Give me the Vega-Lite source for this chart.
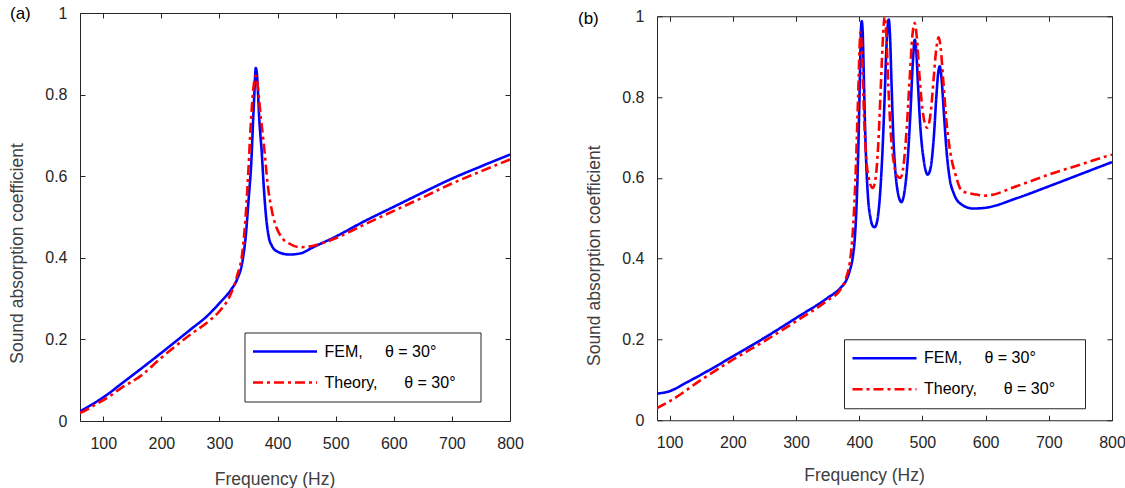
{
  "$schema": "https://vega.github.io/schema/vega-lite/v6.json",
  "background": "white",
  "padding": {"left": 8, "top": 4, "right": 0, "bottom": 0},
  "spacing": 53,
  "center": true,
  "config": {
    "view": {"stroke": "#262626", "strokeWidth": 1},
    "font": "Liberation Sans",
    "axis": {
      "grid": false,
      "domain": false,
      "tickColor": "#262626",
      "tickSize": -5,
      "labelFont": "Liberation Sans",
      "labelFontSize": 16,
      "labelColor": "#262626",
      "labelFlush": false,
      "labelOverlap": false,
      "titleFont": "Liberation Sans",
      "titleFontSize": 17.5,
      "titleFontWeight": "normal",
      "titleColor": "#404040"
    },
    "legend": {"title": null, "orient": "none", "strokeColor": "#262626", "fillColor": "white", "padding": 7, "symbolType": "stroke", "symbolSize": 4096, "symbolStrokeWidth": 2.6, "labelFont": "Liberation Sans", "labelFontSize": 16, "labelColor": "#000000", "labelOffset": 6, "labelLimit": 400, "clipHeight": 24, "rowPadding": 7},
    "title": {"font": "Liberation Sans", "fontSize": 17, "fontWeight": "normal", "color": "#000000"}
  },
  "datasets": {
    "a": [
      {"f": 60, "v": 0.024, "s": "FEM"}, {"f": 64, "v": 0.027, "s": "FEM"}, {"f": 80, "v": 0.040, "s": "FEM"}, {"f": 107, "v": 0.065, "s": "FEM"}, {"f": 130, "v": 0.090, "s": "FEM"}, {"f": 164, "v": 0.127, "s": "FEM"}, {"f": 200, "v": 0.167, "s": "FEM"}, {"f": 250, "v": 0.224, "s": "FEM"}, {"f": 280, "v": 0.259, "s": "FEM"}, {"f": 300, "v": 0.289, "s": "FEM"}, {"f": 320, "v": 0.322, "s": "FEM"}, {"f": 330, "v": 0.346, "s": "FEM"}, {"f": 340, "v": 0.395, "s": "FEM"}, {"f": 345, "v": 0.45, "s": "FEM"}, {"f": 350, "v": 0.54, "s": "FEM"}, {"f": 355, "v": 0.64, "s": "FEM"}, {"f": 358, "v": 0.74, "s": "FEM"}, {"f": 360, "v": 0.80, "s": "FEM"}, {"f": 362.5, "v": 0.865, "s": "FEM"}, {"f": 364.5, "v": 0.85, "s": "FEM"}, {"f": 366.5, "v": 0.80, "s": "FEM"}, {"f": 368.5, "v": 0.74, "s": "FEM"}, {"f": 370.5, "v": 0.70, "s": "FEM"}, {"f": 372.7, "v": 0.66, "s": "FEM"}, {"f": 376, "v": 0.58, "s": "FEM"}, {"f": 379.6, "v": 0.51, "s": "FEM"}, {"f": 385, "v": 0.45, "s": "FEM"}, {"f": 390, "v": 0.43, "s": "FEM"}, {"f": 400, "v": 0.415, "s": "FEM"}, {"f": 420, "v": 0.408, "s": "FEM"}, {"f": 440, "v": 0.411, "s": "FEM"}, {"f": 460, "v": 0.425, "s": "FEM"}, {"f": 500, "v": 0.452, "s": "FEM"}, {"f": 550, "v": 0.49, "s": "FEM"}, {"f": 600, "v": 0.525, "s": "FEM"}, {"f": 650, "v": 0.56, "s": "FEM"}, {"f": 700, "v": 0.594, "s": "FEM"}, {"f": 750, "v": 0.624, "s": "FEM"}, {"f": 800, "v": 0.653, "s": "FEM"},
      {"f": 60, "v": 0.020, "s": "Theory"}, {"f": 64, "v": 0.022, "s": "Theory"}, {"f": 80, "v": 0.035, "s": "Theory"}, {"f": 107, "v": 0.057, "s": "Theory"}, {"f": 130, "v": 0.080, "s": "Theory"}, {"f": 164, "v": 0.110, "s": "Theory"}, {"f": 200, "v": 0.155, "s": "Theory"}, {"f": 250, "v": 0.212, "s": "Theory"}, {"f": 280, "v": 0.243, "s": "Theory"}, {"f": 300, "v": 0.269, "s": "Theory"}, {"f": 320, "v": 0.313, "s": "Theory"}, {"f": 330, "v": 0.354, "s": "Theory"}, {"f": 340, "v": 0.42, "s": "Theory"}, {"f": 345, "v": 0.50, "s": "Theory"}, {"f": 350, "v": 0.62, "s": "Theory"}, {"f": 354, "v": 0.73, "s": "Theory"}, {"f": 358, "v": 0.81, "s": "Theory"}, {"f": 362.5, "v": 0.846, "s": "Theory"}, {"f": 366, "v": 0.82, "s": "Theory"}, {"f": 370, "v": 0.76, "s": "Theory"}, {"f": 376.7, "v": 0.673, "s": "Theory"}, {"f": 383, "v": 0.58, "s": "Theory"}, {"f": 391, "v": 0.51, "s": "Theory"}, {"f": 398, "v": 0.475, "s": "Theory"}, {"f": 405.5, "v": 0.453, "s": "Theory"}, {"f": 420, "v": 0.435, "s": "Theory"}, {"f": 440, "v": 0.426, "s": "Theory"}, {"f": 460, "v": 0.429, "s": "Theory"}, {"f": 500, "v": 0.448, "s": "Theory"}, {"f": 550, "v": 0.482, "s": "Theory"}, {"f": 600, "v": 0.515, "s": "Theory"}, {"f": 650, "v": 0.548, "s": "Theory"}, {"f": 700, "v": 0.582, "s": "Theory"}, {"f": 750, "v": 0.612, "s": "Theory"}, {"f": 800, "v": 0.641, "s": "Theory"}
    ],
    "b": [
      {"f": 80, "v": 0.066, "s": "FEM"}, {"f": 100, "v": 0.072, "s": "FEM"}, {"f": 125, "v": 0.092, "s": "FEM"}, {"f": 150, "v": 0.113, "s": "FEM"}, {"f": 200, "v": 0.158, "s": "FEM"}, {"f": 250, "v": 0.204, "s": "FEM"}, {"f": 300, "v": 0.253, "s": "FEM"}, {"f": 350, "v": 0.303, "s": "FEM"}, {"f": 370, "v": 0.327, "s": "FEM"}, {"f": 380, "v": 0.348, "s": "FEM"}, {"f": 385, "v": 0.37, "s": "FEM"}, {"f": 390, "v": 0.406, "s": "FEM"}, {"f": 393, "v": 0.45, "s": "FEM"}, {"f": 396, "v": 0.54, "s": "FEM"}, {"f": 398, "v": 0.64, "s": "FEM"}, {"f": 400, "v": 0.77, "s": "FEM"}, {"f": 401.5, "v": 0.88, "s": "FEM"}, {"f": 403, "v": 0.975, "s": "FEM"}, {"f": 404, "v": 0.988, "s": "FEM"}, {"f": 405.5, "v": 0.96, "s": "FEM"}, {"f": 407, "v": 0.87, "s": "FEM"}, {"f": 409, "v": 0.74, "s": "FEM"}, {"f": 411, "v": 0.64, "s": "FEM"}, {"f": 414, "v": 0.55, "s": "FEM"}, {"f": 418, "v": 0.50, "s": "FEM"}, {"f": 421, "v": 0.482, "s": "FEM"}, {"f": 424.5, "v": 0.478, "s": "FEM"}, {"f": 428, "v": 0.49, "s": "FEM"}, {"f": 432, "v": 0.54, "s": "FEM"}, {"f": 436, "v": 0.64, "s": "FEM"}, {"f": 440, "v": 0.79, "s": "FEM"}, {"f": 443, "v": 0.92, "s": "FEM"}, {"f": 445, "v": 0.975, "s": "FEM"}, {"f": 446.7, "v": 0.992, "s": "FEM"}, {"f": 448.5, "v": 0.96, "s": "FEM"}, {"f": 451, "v": 0.84, "s": "FEM"}, {"f": 454, "v": 0.70, "s": "FEM"}, {"f": 457, "v": 0.62, "s": "FEM"}, {"f": 461, "v": 0.565, "s": "FEM"}, {"f": 466.7, "v": 0.540, "s": "FEM"}, {"f": 471, "v": 0.56, "s": "FEM"}, {"f": 476, "v": 0.63, "s": "FEM"}, {"f": 481, "v": 0.76, "s": "FEM"}, {"f": 485, "v": 0.89, "s": "FEM"}, {"f": 487.8, "v": 0.942, "s": "FEM"}, {"f": 490, "v": 0.92, "s": "FEM"}, {"f": 493, "v": 0.83, "s": "FEM"}, {"f": 497, "v": 0.72, "s": "FEM"}, {"f": 502, "v": 0.645, "s": "FEM"}, {"f": 508.4, "v": 0.608, "s": "FEM"}, {"f": 513, "v": 0.625, "s": "FEM"}, {"f": 518, "v": 0.70, "s": "FEM"}, {"f": 522, "v": 0.80, "s": "FEM"}, {"f": 525, "v": 0.86, "s": "FEM"}, {"f": 527.4, "v": 0.876, "s": "FEM"}, {"f": 530, "v": 0.85, "s": "FEM"}, {"f": 534, "v": 0.76, "s": "FEM"}, {"f": 538, "v": 0.67, "s": "FEM"}, {"f": 543, "v": 0.60, "s": "FEM"}, {"f": 550, "v": 0.56, "s": "FEM"}, {"f": 562, "v": 0.534, "s": "FEM"}, {"f": 580, "v": 0.524, "s": "FEM"}, {"f": 600, "v": 0.526, "s": "FEM"}, {"f": 650, "v": 0.55, "s": "FEM"}, {"f": 700, "v": 0.579, "s": "FEM"}, {"f": 750, "v": 0.609, "s": "FEM"}, {"f": 800, "v": 0.639, "s": "FEM"},
      {"f": 80, "v": 0.030, "s": "Theory"}, {"f": 100, "v": 0.047, "s": "Theory"}, {"f": 150, "v": 0.100, "s": "Theory"}, {"f": 200, "v": 0.150, "s": "Theory"}, {"f": 250, "v": 0.196, "s": "Theory"}, {"f": 300, "v": 0.245, "s": "Theory"}, {"f": 350, "v": 0.297, "s": "Theory"}, {"f": 370, "v": 0.323, "s": "Theory"}, {"f": 380, "v": 0.356, "s": "Theory"}, {"f": 385, "v": 0.39, "s": "Theory"}, {"f": 390, "v": 0.47, "s": "Theory"}, {"f": 393, "v": 0.56, "s": "Theory"}, {"f": 395, "v": 0.64, "s": "Theory"}, {"f": 397, "v": 0.74, "s": "Theory"}, {"f": 399, "v": 0.84, "s": "Theory"}, {"f": 400.5, "v": 0.92, "s": "Theory"}, {"f": 401.8, "v": 0.96, "s": "Theory"}, {"f": 403, "v": 0.95, "s": "Theory"}, {"f": 405, "v": 0.88, "s": "Theory"}, {"f": 408, "v": 0.74, "s": "Theory"}, {"f": 411, "v": 0.65, "s": "Theory"}, {"f": 415, "v": 0.60, "s": "Theory"}, {"f": 421.3, "v": 0.575, "s": "Theory"}, {"f": 426, "v": 0.60, "s": "Theory"}, {"f": 430, "v": 0.68, "s": "Theory"}, {"f": 434, "v": 0.82, "s": "Theory"}, {"f": 437, "v": 0.93, "s": "Theory"}, {"f": 440.3, "v": 1.0, "s": "Theory"}, {"f": 443, "v": 0.95, "s": "Theory"}, {"f": 446, "v": 0.83, "s": "Theory"}, {"f": 450, "v": 0.71, "s": "Theory"}, {"f": 455, "v": 0.635, "s": "Theory"}, {"f": 460, "v": 0.605, "s": "Theory"}, {"f": 465.2, "v": 0.600, "s": "Theory"}, {"f": 470, "v": 0.63, "s": "Theory"}, {"f": 475, "v": 0.72, "s": "Theory"}, {"f": 480, "v": 0.85, "s": "Theory"}, {"f": 484, "v": 0.95, "s": "Theory"}, {"f": 487.8, "v": 0.983, "s": "Theory"}, {"f": 491, "v": 0.95, "s": "Theory"}, {"f": 495, "v": 0.86, "s": "Theory"}, {"f": 500, "v": 0.77, "s": "Theory"}, {"f": 507.4, "v": 0.724, "s": "Theory"}, {"f": 513, "v": 0.76, "s": "Theory"}, {"f": 518, "v": 0.85, "s": "Theory"}, {"f": 522, "v": 0.92, "s": "Theory"}, {"f": 525.8, "v": 0.948, "s": "Theory"}, {"f": 529, "v": 0.92, "s": "Theory"}, {"f": 533, "v": 0.84, "s": "Theory"}, {"f": 538, "v": 0.74, "s": "Theory"}, {"f": 545, "v": 0.655, "s": "Theory"}, {"f": 552, "v": 0.61, "s": "Theory"}, {"f": 562.8, "v": 0.567, "s": "Theory"}, {"f": 584, "v": 0.559, "s": "Theory"}, {"f": 600, "v": 0.556, "s": "Theory"}, {"f": 650, "v": 0.58, "s": "Theory"}, {"f": 700, "v": 0.608, "s": "Theory"}, {"f": 750, "v": 0.633, "s": "Theory"}, {"f": 800, "v": 0.658, "s": "Theory"}
    ]
  },
  "hconcat": [
    {
      "width": 430,
      "height": 408,
      "title": {"text": "(a)", "anchor": "start", "frame": "group", "dx": -70, "offset": -18},
      "data": {"name": "a"},
      "layer": [
        {
          "mark": {"type": "line", "strokeWidth": 2.6, "clip": true, "interpolate": "monotone"},
          "encoding": {
            "x": {"field": "f", "type": "quantitative", "scale": {"domain": [60, 800], "nice": false, "zero": false},
                  "axis": {"orient": "bottom", "values": [100, 200, 300, 400, 500, 600, 700, 800], "labelPadding": 19, "labelDx": -5, "title": "Frequency (Hz)", "titlePadding": 19, "titleX": 194.5}},
            "y": {"field": "v", "type": "quantitative", "scale": {"domain": [0, 1], "nice": false},
                  "axis": {"orient": "left", "values": [0, 0.2, 0.4, 0.6, 0.8, 1], "format": "~g", "labelPadding": 18, "labelDy": -5, "title": "Sound absorption coefficient", "titlePadding": 18, "titleY": 240}},
            "color": {"field": "s", "type": "nominal", "scale": {"domain": ["FEM", "Theory"], "range": ["#0000ff", "#ff0000"]},
                      "legend": {"legendX": 164.5, "legendY": 319.5,
                                 "labelExpr": "datum.label == 'FEM' ? 'FEM,\u00a0\u00a0\u00a0\u00a0\u00a0θ = 30°' : 'Theory,\u00a0\u00a0\u00a0\u00a0\u00a0\u00a0θ = 30°\u00a0\u00a0\u00a0\u00a0\u200b'"}},
            "strokeDash": {"field": "s", "type": "nominal", "scale": {"domain": ["FEM", "Theory"], "range": [[1, 0], [10, 4, 3, 4]]},
                      "legend": {"legendX": 164.5, "legendY": 319.5,
                                 "labelExpr": "datum.label == 'FEM' ? 'FEM,\u00a0\u00a0\u00a0\u00a0\u00a0θ = 30°' : 'Theory,\u00a0\u00a0\u00a0\u00a0\u00a0\u00a0θ = 30°\u00a0\u00a0\u00a0\u00a0\u200b'"}}
          }
        },
        {
          "mark": {"type": "line", "opacity": 0},
          "encoding": {
            "x": {"field": "f", "type": "quantitative", "axis": {"orient": "top", "values": [100, 200, 300, 400, 500, 600, 700, 800], "labels": false, "title": null}},
            "y": {"field": "v", "type": "quantitative", "axis": {"orient": "right", "values": [0, 0.2, 0.4, 0.6, 0.8, 1], "labels": false, "title": null}}
          }
        }
      ],
      "resolve": {"axis": {"x": "independent", "y": "independent"}}
    },
    {
      "width": 455,
      "height": 404,
      "title": {"text": "(b)", "anchor": "start", "frame": "group", "dx": -79, "offset": -20},
      "data": {"name": "b"},
      "layer": [
        {
          "mark": {"type": "line", "strokeWidth": 2.6, "clip": true, "interpolate": "monotone"},
          "encoding": {
            "x": {"field": "f", "type": "quantitative", "scale": {"domain": [80, 800], "nice": false, "zero": false},
                  "axis": {"orient": "bottom", "values": [100, 200, 300, 400, 500, 600, 700, 800], "labelPadding": 19, "labelDx": -5, "title": "Frequency (Hz)", "titlePadding": 16.5, "titleX": 207}},
            "y": {"field": "v", "type": "quantitative", "scale": {"domain": [0, 1], "nice": false},
                  "axis": {"orient": "left", "values": [0, 0.2, 0.4, 0.6, 0.8, 1], "format": "~g", "labelPadding": 18, "labelDy": -5, "title": "Sound absorption coefficient", "titlePadding": 18, "titleY": 239}},
            "color": {"field": "s", "type": "nominal", "scale": {"domain": ["FEM", "Theory"], "range": ["#0000ff", "#ff0000"]},
                      "legend": {"legendX": 187, "legendY": 323,
                                 "labelExpr": "datum.label == 'FEM' ? 'FEM,\u00a0\u00a0\u00a0\u00a0\u00a0θ = 30°' : 'Theory,\u00a0\u00a0\u00a0\u00a0\u00a0\u00a0θ = 30°\u00a0\u00a0\u00a0\u00a0\u00a0\u200b'"}},
            "strokeDash": {"field": "s", "type": "nominal", "scale": {"domain": ["FEM", "Theory"], "range": [[1, 0], [10, 4, 3, 4]]},
                      "legend": {"legendX": 187, "legendY": 323,
                                 "labelExpr": "datum.label == 'FEM' ? 'FEM,\u00a0\u00a0\u00a0\u00a0\u00a0θ = 30°' : 'Theory,\u00a0\u00a0\u00a0\u00a0\u00a0\u00a0θ = 30°\u00a0\u00a0\u00a0\u00a0\u00a0\u200b'"}}
          }
        },
        {
          "mark": {"type": "line", "opacity": 0},
          "encoding": {
            "x": {"field": "f", "type": "quantitative", "axis": {"orient": "top", "values": [100, 200, 300, 400, 500, 600, 700, 800], "labels": false, "title": null}},
            "y": {"field": "v", "type": "quantitative", "axis": {"orient": "right", "values": [0, 0.2, 0.4, 0.6, 0.8, 1], "labels": false, "title": null}}
          }
        }
      ],
      "resolve": {"axis": {"x": "independent", "y": "independent"}}
    }
  ],
  "resolve": {"scale": {"color": "independent", "strokeDash": "independent"}, "legend": {"color": "independent", "strokeDash": "independent"}}
}
